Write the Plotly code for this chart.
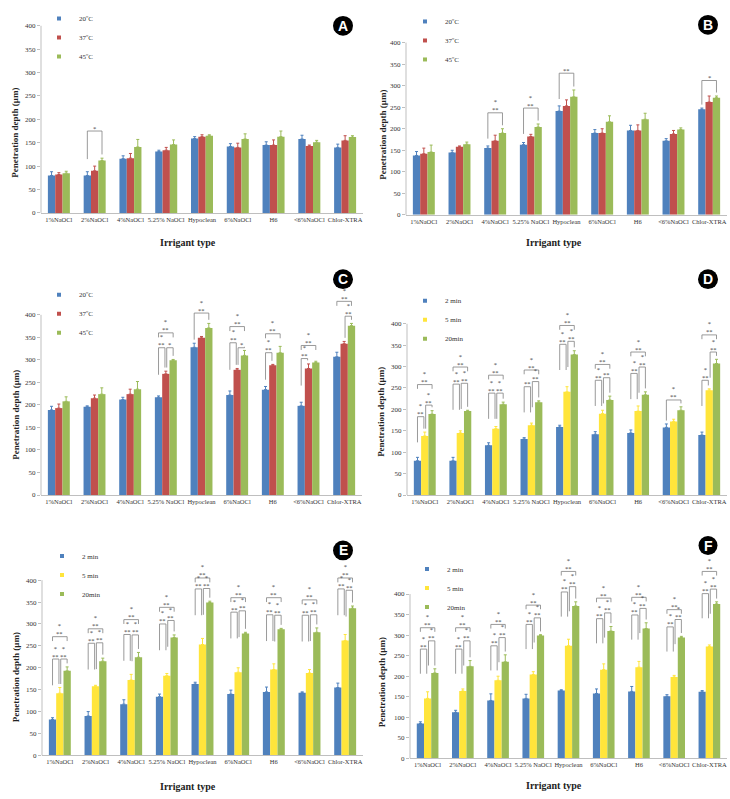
import plotly.graph_objects as go

# ---------------- data ----------------
categories = ["1%NaOCl", "2%NaOCl", "4%NaOCl", "5.25% NaOCl", "Hypoclean",
              "6%NaOCl", "H6", "<6%NaOCl", "Chlor-XTRA"]
temp_labels = ["20ºC", "37ºC", "45ºC"]
time_labels = ["2 min", "5 min", "20min"]

# mean penetration depth (µm) and SD, named t<time>_<temperature>
t2_20 = [80, 80, 116, 131, 159, 142, 145, 158, 140]
t2_20_err = [8, 8, 6, 3, 4, 6, 7, 8, 7]
t2_37 = [82, 90, 117, 134, 163, 140, 145, 143, 155]
t2_37_err = [4, 10, 10, 6, 4, 9, 11, 2, 10]
t2_45 = [85, 112, 141, 146, 165, 158, 163, 151, 162]
t2_45_err = [4, 5, 16, 10, 2, 11, 12, 4, 3]

t5_20 = [138, 145, 155, 163, 241, 190, 196, 172, 245]
t5_20_err = [9, 5, 5, 5, 12, 8, 12, 5, 3]
t5_37 = [142, 158, 172, 182, 253, 190, 196, 188, 262]
t5_37_err = [13, 2, 13, 5, 14, 10, 13, 8, 14]
t5_45 = [146, 164, 190, 204, 274, 216, 222, 198, 272]
t5_45_err = [16, 5, 10, 7, 16, 14, 14, 4, 4]

t20_20 = [189, 196, 212, 217, 328, 222, 234, 198, 307]
t20_20_err = [8, 2, 5, 3, 9, 9, 7, 8, 10]
t20_37 = [193, 215, 224, 269, 349, 278, 288, 281, 336]
t20_37_err = [9, 7, 11, 6, 3, 3, 2, 10, 5]
t20_45 = [208, 224, 235, 299, 371, 310, 316, 294, 376]
t20_45_err = [10, 14, 17, 2, 10, 11, 14, 3, 5]

y_ticks = [0, 50, 100, 150, 200, 250, 300, 350, 400]

# significance brackets: (category index, bar i, bar j, bracket height, stars)
sig_A = [(1, 0, 2, 175, "*")]
sig_B = [(2, 0, 2, 237, "***"), (3, 0, 2, 248, "***"), (4, 0, 2, 329, "**"), (8, 0, 2, 312, "*")]
sig_C = [(3, 0, 2, 360, "***"), (3, 0, 1, 327, "***"), (3, 1, 2, 327, "*"),
         (4, 0, 2, 404, "***"),
         (5, 0, 2, 374, "***"), (5, 0, 1, 338, "***"), (5, 1, 2, 327, "*"),
         (6, 0, 2, 358, "***"), (6, 0, 1, 316, "***"),
         (7, 0, 2, 332, "***"), (7, 0, 1, 303, "***"),
         (8, 0, 2, 430, "***"), (8, 1, 2, 397, "***")]
sig_D = [(0, 0, 2, 258, "***"), (0, 0, 1, 183, "***"), (0, 1, 2, 210, "***"),
         (1, 0, 2, 299, "***"), (1, 0, 1, 259, "***"), (1, 1, 2, 261, "***"),
         (2, 0, 2, 280, "***"), (2, 0, 1, 238, "***"), (2, 1, 2, 238, "***"),
         (3, 0, 2, 292, "***"), (3, 0, 1, 253, "**"), (3, 1, 2, 265, "***"),
         (4, 0, 2, 396, "***"), (4, 0, 1, 352, "***"), (4, 1, 2, 359, "***"),
         (5, 0, 2, 305, "***"), (5, 0, 1, 268, "***"), (5, 1, 2, 274, "**"),
         (6, 0, 2, 334, "***"), (6, 0, 1, 284, "***"), (6, 1, 2, 299, "***"),
         (7, 0, 2, 222, "***"),
         (8, 0, 2, 374, "***"), (8, 0, 1, 268, "***"), (8, 1, 2, 334, "***")]
sig_E = [(0, 0, 2, 271, "***"), (0, 0, 1, 220, "***"), (0, 1, 2, 220, "***"),
         (1, 0, 2, 289, "***"), (1, 0, 1, 256, "***"), (1, 1, 2, 257, "***"),
         (2, 0, 2, 310, "***"), (2, 0, 1, 276, "***"), (2, 1, 2, 275, "***"),
         (3, 0, 2, 338, "***"), (3, 0, 1, 300, "***"), (3, 1, 2, 308, "***"),
         (4, 0, 2, 405, "***"), (4, 0, 1, 380, "***"), (4, 1, 2, 381, "***"),
         (5, 0, 2, 360, "***"), (5, 0, 1, 327, "***"), (5, 1, 2, 330, "***"),
         (6, 0, 2, 360, "***"), (6, 0, 1, 321, "***"), (6, 1, 2, 320, "***"),
         (7, 0, 2, 355, "***"), (7, 0, 1, 320, "***"), (7, 1, 2, 321, "***"),
         (8, 0, 2, 405, "***"), (8, 0, 1, 380, "***"), (8, 1, 2, 377, "***")]
sig_F = [(0, 0, 2, 318, "***"), (0, 0, 1, 266, "***"), (0, 1, 2, 286, "***"),
         (1, 0, 2, 318, "***"), (1, 0, 1, 266, "***"), (1, 1, 2, 286, "***"),
         (2, 0, 2, 326, "***"), (2, 0, 1, 274, "***"), (2, 1, 2, 294, "***"),
         (3, 0, 2, 373, "***"), (3, 0, 1, 326, "***"), (3, 1, 2, 342, "***"),
         (4, 0, 2, 455, "***"), (4, 0, 1, 405, "***"), (4, 1, 2, 418, "***"),
         (5, 0, 2, 390, "***"), (5, 0, 1, 340, "***"), (5, 1, 2, 354, "***"),
         (6, 0, 2, 392, "***"), (6, 0, 1, 349, "***"), (6, 1, 2, 365, "***"),
         (7, 0, 2, 362, "***"), (7, 0, 1, 320, "***"), (7, 1, 2, 338, "***"),
         (8, 0, 2, 455, "***"), (8, 0, 1, 401, "***"), (8, 1, 2, 412, "***")]

# ---------------- style / layout ----------------
W, H = 730, 799
BLUE, RED, GREEN, YELLOW = "#4F81BD", "#C0504D", "#9BBB59", "#FFE53B"
temp_colors = [BLUE, RED, GREEN]
time_colors = [BLUE, YELLOW, GREEN]
SERIF = "Liberation Serif"
BARGAP = 0.385
BW = (1 - BARGAP) / 3

# leg = (reference marker x, reference middle legend row y)
panels = [
    dict(key="A", vals=[t2_20, t2_37, t2_45], errs=[t2_20_err, t2_37_err, t2_45_err],
         names=temp_labels, colors=temp_colors, sig=sig_A,
         left=41, right=363, y0=211, y400=22, ymax=400,
         circle=(343, 22, 10), leg=(67, 25), ytitle=(15, 130), xtitle=(188, 241)),
    dict(key="B", vals=[t5_20, t5_37, t5_45], errs=[t5_20_err, t5_37_err, t5_45_err],
         names=temp_labels, colors=temp_colors, sig=sig_B,
         left=406, right=727, y0=213, y400=39, ymax=400,
         circle=(708, 21, 10), leg=(433, 40), ytitle=(383, 132), xtitle=(554, 241)),
    dict(key="C", vals=[t20_20, t20_37, t20_45], errs=[t20_20_err, t20_37_err, t20_45_err],
         names=temp_labels, colors=temp_colors, sig=sig_C,
         left=41, right=362, y0=496, y400=314, ymax=435,
         circle=(343, 278, 10), leg=(67, 316), ytitle=(16, 415), xtitle=None),
    dict(key="D", vals=[t2_20, t5_20, t20_20], errs=[t2_20_err, t5_20_err, t20_20_err],
         names=time_labels, colors=time_colors, sig=sig_D,
         left=407, right=727, y0=496, y400=323, ymax=400,
         circle=(708, 278, 10), leg=(433, 322), ytitle=(381, 412), xtitle=None),
    dict(key="E", vals=[t2_37, t5_37, t20_37], errs=[t2_37_err, t5_37_err, t20_37_err],
         names=time_labels, colors=time_colors, sig=sig_E,
         left=42, right=363, y0=759, y400=582, ymax=410,
         circle=(343, 552, 10), leg=(70, 580), ytitle=(16, 680), xtitle=(188, 790)),
    dict(key="F", vals=[t2_45, t5_45, t20_45], errs=[t2_45_err, t5_45_err, t20_45_err],
         names=time_labels, colors=time_colors, sig=sig_F,
         left=410, right=727, y0=762, y400=596, ymax=460,
         circle=(708, 547, 9.5), leg=(435, 593), ytitle=(382, 685), xtitle=(554, 789)),
]

fig = go.Figure()
shapes, annotations = [], []
layout_extra = {}

for n, p in enumerate(panels, start=1):
    s = "" if n == 1 else str(n)
    xa, ya = "x" + s, "y" + s
    legname = "legend" + s
    ppu = (p["y0"] - p["y400"]) / 400.0
    top_px = p["y400"] - (p["ymax"] - 400) * ppu
    xdom = [p["left"] / W, p["right"] / W]
    ydom = [1 - p["y0"] / H, 1 - top_px / H]

    for k in range(3):
        fig.add_trace(go.Bar(
            x=list(range(len(categories))), y=p["vals"][k],
            error_y=dict(type="data", array=p["errs"][k], arrayminus=[0] * len(categories),
                         symmetric=False, color=p["colors"][k], thickness=1, width=1.5),
            marker=dict(color=p["colors"][k], line=dict(width=0)),
            xaxis=xa, yaxis=ya, showlegend=False, offsetgroup=str(k),
            name=p["names"][k]))
        fig.add_trace(go.Scatter(
            x=[None], y=[None], mode="markers", name=p["names"][k],
            marker=dict(symbol="square", size=4, color=p["colors"][k]),
            xaxis=xa, yaxis=ya, legend=legname, showlegend=True))

    layout_extra["xaxis" + s] = dict(
        domain=xdom, anchor=ya, range=[-0.5, len(categories) - 0.5],
        tickvals=list(range(len(categories))), ticktext=categories, tickangle=0,
        showgrid=False, zeroline=False, showline=True, linecolor="#bfbfbf", linewidth=1,
        ticks="", tickfont=dict(family=SERIF, size=6.5, color="#333333"), fixedrange=True)
    layout_extra["yaxis" + s] = dict(
        domain=ydom, anchor=xa, range=[0, p["ymax"]], tickvals=y_ticks,
        showgrid=False, zeroline=False, showline=False,
        ticks="outside", ticklen=3, tickcolor="#bfbfbf",
        tickfont=dict(family=SERIF, size=7, color="#333333"), fixedrange=True)
    lx, lmid = p["leg"]
    layout_extra[legname] = dict(
        x=(lx - 28) / W, y=min(1.0, 1 - (lmid - 37) / H), xanchor="left", yanchor="top",
        bgcolor="rgba(0,0,0,0)", font=dict(family=SERIF, size=7, color="#333333"),
        itemwidth=30, tracegroupgap=0)

    # y axis line from 0 to 400
    shapes.append(dict(type="line", xref=xa + " domain", yref=ya + " domain",
                       x0=0, x1=0, y0=0, y1=400 / p["ymax"],
                       line=dict(color="#bfbfbf", width=1)))

    # significance brackets
    cats_with_inner = {c for (c, i, j, h, st) in p["sig"] if j - i == 1}
    for (c, i, j, h, st) in p["sig"]:
        xi = c + (i - 1) * BW
        xj = c + (j - 1) * BW
        if j - i == 1:
            if j == 1:
                xj -= 0.025
            if i == 1:
                xi += 0.025
        top_i = p["vals"][i][c] + p["errs"][i][c] + 8
        top_j = p["vals"][j][c] + p["errs"][j][c] + 8
        if j - i == 2 and c in cats_with_inner:
            bi, bj = h - 10, h - 10
        else:
            bi, bj = max(top_i, h - 60), max(top_j, h - 60)
        shapes.append(dict(type="path", xref=xa, yref=ya,
                           path=f"M {xi},{bi} L {xi},{h} L {xj},{h} L {xj},{bj}",
                           line=dict(color="#808080", width=0.8)))
        xm = (xi + xj) / 2
        txt = "*<br>**" if st == "***" else st
        annotations.append(dict(x=xm, y=h, xref=xa, yref=ya, text=txt, showarrow=False,
                                yanchor="bottom", yshift=-1.5, borderpad=0,
                                font=dict(family=SERIF, size=6.5, color="#404040")))

    # panel letter circle
    cx, cy, r = p["circle"]
    shapes.append(dict(type="circle", xref="paper", yref="paper",
                       x0=(cx - r) / W, x1=(cx + r) / W, y0=1 - (cy + r) / H, y1=1 - (cy - r) / H,
                       fillcolor="black", line=dict(color="black", width=0)))
    annotations.append(dict(x=cx / W, y=1 - cy / H, xref="paper", yref="paper", text="<b>" + p["key"] + "</b>",
                            showarrow=False, xanchor="center", yanchor="middle",
                            font=dict(family="Liberation Sans", size=14, color="white")))

    # axis titles
    tx, ty = p["ytitle"]
    annotations.append(dict(x=tx / W, y=1 - ty / H, xref="paper", yref="paper",
                            text="<b>Penetration depth (µm)</b>", textangle=-90, showarrow=False,
                            xanchor="center", yanchor="middle",
                            font=dict(family=SERIF, size=9, color="#222222")))
    if p["xtitle"]:
        tx, ty = p["xtitle"]
        annotations.append(dict(x=tx / W, y=1 - ty / H, xref="paper", yref="paper",
                                text="<b>Irrigant type</b>", showarrow=False,
                                xanchor="center", yanchor="middle",
                                font=dict(family=SERIF, size=10, color="#222222")))

fig.update_layout(
    width=W, height=H, margin=dict(l=0, r=0, t=0, b=0),
    paper_bgcolor="white", plot_bgcolor="rgba(0,0,0,0)",
    barmode="group", bargap=BARGAP, bargroupgap=0,
    font=dict(family=SERIF, size=7, color="#333333"),
    shapes=shapes, annotations=annotations, **layout_extra)

fig.write_html("out.html")
